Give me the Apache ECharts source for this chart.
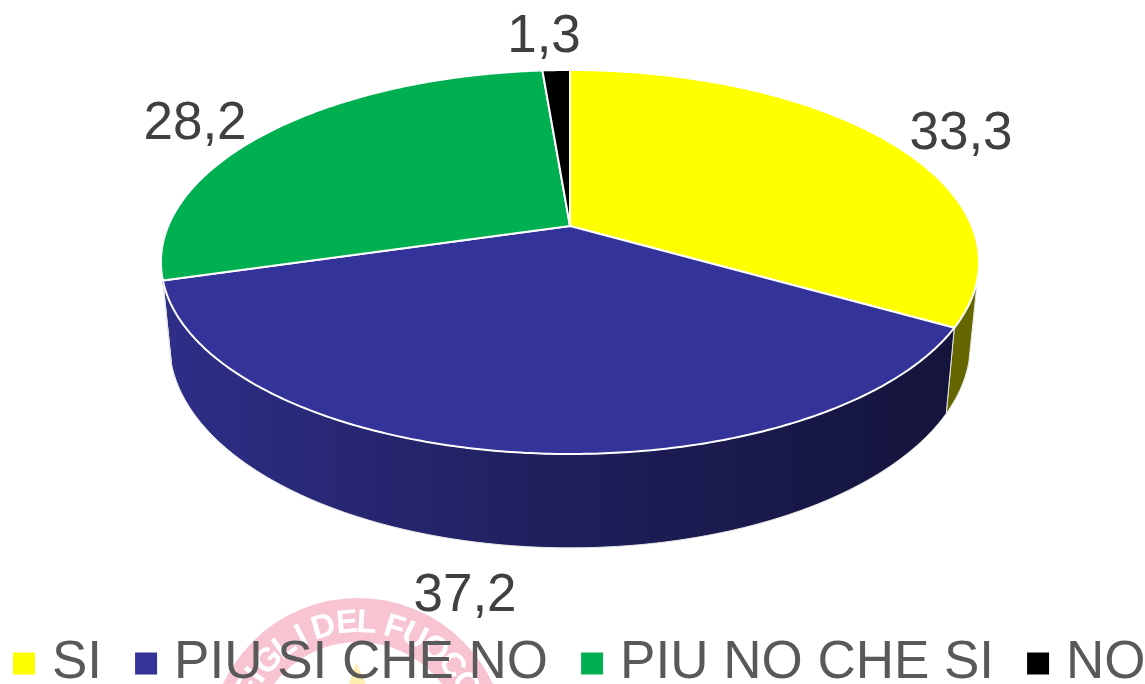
<!DOCTYPE html>
<html>
<head>
<meta charset="utf-8">
<title>pie</title>
<style>
  html, body { margin: 0; padding: 0; background: #fff; }
  #chart { width: 1145px; height: 684px; }
</style>
<script src="https://cdn.jsdelivr.net/npm/echarts@6/dist/echarts.min.js"></script>
</head>
<body>
<div id="chart"></div>
<script>
  const categories = ['SI', 'PIU SI CHE NO', 'PIU NO CHE SI', 'NO'];
  const values = [33.3, 37.2, 28.2, 1.3];
  const colors = ['#FFFF00', '#333399', '#00B050', '#000000'];

  // label centres, placed by hand like the original best-fit labels
  const labelCenters = [[961, 134], [465, 596], [195, 124], [544, 37]];

  // perspective disc: top face and bottom face of the extruded pie
  const CX = 570;
  const PERSP = 0.1875;
  const topFace = { cy: 226, rx: 401.8, ry: 185.25 };
  const lowFace = { cy: 305, rx: 393.4, ry: 197.3 };
  const SIDE_FROM = 105.7 * Math.PI / 180;
  const SIDE_TO = 254.3 * Math.PI / 180;

  const total = values.reduce((a, b) => a + b, 0);
  let running = 0;
  const starts = values.map(v => { const s = running / total; running += v; return s; });

  function rim(face, theta) {
    const u = Math.sin(theta), v = -Math.cos(theta);
    const w = 1 - PERSP * v;
    return [CX + face.rx * u / w, face.cy + face.ry * v / w];
  }

  function arc(face, a0, a1) {
    const n = Math.max(2, Math.ceil((a1 - a0) / 0.01));
    const pts = [];
    for (let i = 0; i <= n; i++) pts.push(rim(face, a0 + (a1 - a0) * i / n));
    return pts;
  }

  function sideFill(index) {
    if (index === 0) return '#666600';
    return {
      type: 'linear', global: true, x: 170, y: 0, x2: 945, y2: 0,
      colorStops: [
        { offset: 0, color: '#2e2e87' },
        { offset: 0.5, color: '#1f1f5c' },
        { offset: 1, color: '#14143c' }
      ]
    };
  }

  function renderSlice(params, api) {
    const value = api.value(0);
    const a0 = api.value(1) * Math.PI * 2;
    const a1 = a0 + value / total * Math.PI * 2;
    const i = params.seriesIndex;
    const children = [];

    const s0 = Math.max(a0, SIDE_FROM), s1 = Math.min(a1, SIDE_TO);
    if (s1 > s0) {
      children.push({
        type: 'polygon',
        shape: { points: arc(topFace, s0, s1).concat(arc(lowFace, s0, s1).reverse()) },
        style: { fill: sideFill(i), stroke: '#e8e8e8', lineWidth: 1 }
      });
    }

    children.push({
      type: 'polygon',
      shape: { points: [[CX, topFace.cy]].concat(arc(topFace, a0, a1)) },
      style: { fill: colors[i], stroke: '#ffffff', lineWidth: 2, lineJoin: 'round' }
    });

    children.push({
      type: 'text',
      style: {
        text: String(value).replace('.', ','),
        x: labelCenters[i][0], y: labelCenters[i][1],
        align: 'center', verticalAlign: 'middle',
        fill: '#404040',
        font: '53px "Liberation Sans", Arial, sans-serif'
      }
    });

    return { type: 'group', children };
  }

  // stamp behind the legend
  const STAMP = { x: 358, y: 747, outer: 149, inner: 105, mid: 124 };
  const stampLetters = ['F', 'I', 'G', 'L', 'I', 'D', 'E', 'L', 'F', 'U', 'O', 'C', 'O'];
  const stampAngles = [-62, -55, -46, -36, -27, -16, -5, 4, 17, 27, 38, 49, 60];

  function stampGraphic() {
    const items = [{
      type: 'ring', z: -1,
      shape: { cx: STAMP.x, cy: STAMP.y, r: STAMP.outer, r0: STAMP.inner },
      style: { fill: '#f9c4d2' }
    }, {
      type: 'polygon', z: -1,
      shape: { points: [[356, 662], [349, 684], [366, 684]] },
      style: { fill: '#fdeeb0' }
    }];
    stampLetters.forEach((ch, i) => {
      const a = stampAngles[i] * Math.PI / 180;
      items.push({
        type: 'text', z: -1,
        x: STAMP.x + STAMP.mid * Math.sin(a),
        y: STAMP.y - STAMP.mid * Math.cos(a),
        rotation: -a,
        style: {
          text: ch, align: 'center', verticalAlign: 'middle',
          fill: '#ffffff',
          font: 'bold 33px "Liberation Sans", Arial, sans-serif'
        }
      });
    });
    return items;
  }

  const chart = echarts.init(document.getElementById('chart'), null, { renderer: 'canvas' });
  chart.setOption({
    animation: false,
    backgroundColor: '#fff',
    legend: {
      data: categories,
      left: 13,
      top: 637,
      width: 1300,
      padding: 0,
      itemWidth: 22,
      itemHeight: 22,
      itemGap: 33,
      icon: 'rect',
      selectedMode: false,
      textStyle: {
        color: '#595959',
        fontSize: 53,
        fontFamily: '"Liberation Sans", Arial, sans-serif',
        padding: [0, 0, 0, 12]
      }
    },
    graphic: { elements: stampGraphic() },
    series: categories.map((name, i) => ({
      type: 'custom',
      name,
      coordinateSystem: 'none',
      itemStyle: { color: colors[i] },
      renderItem: renderSlice,
      data: [[values[i], starts[i]]],
      silent: true
    }))
  });
</script>
</body>
</html>
